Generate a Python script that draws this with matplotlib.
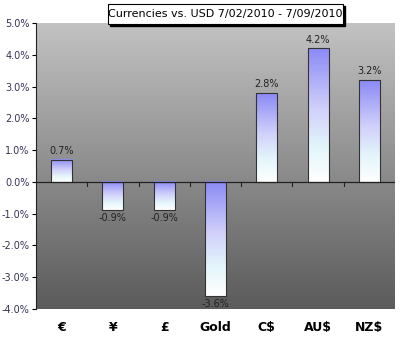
import numpy as np
import matplotlib.pyplot as plt
from matplotlib.colors import LinearSegmentedColormap
from matplotlib.patches import Rectangle
from matplotlib.ticker import FuncFormatter

# Weekly change of currencies vs USD
labels = ["€", "¥", "£", "Gold", "C$", "AU$", "NZ$"]
changes = [0.7, -0.9, -0.9, -3.6, 2.8, 4.2, 3.2]
value_text = ["0.7%", "-0.9%", "-0.9%", "-3.6%", "2.8%", "4.2%", "3.2%"]
title = "Currencies vs. USD 7/02/2010 - 7/09/2010"

W, H = 400, 344
fig = plt.figure(figsize=(W / 100, H / 100), dpi=100)
ax = fig.add_axes([0.09, 0.102, 0.8975, 0.831])

ax.set_xlim(-0.5, len(labels) - 0.5)
ax.set_ylim(-4.0, 5.0)

# plot area background: light gray at top, dark gray at bottom
bg_cmap = LinearSegmentedColormap.from_list("bg", ["#5b5b5b", "#c2c2c2"])
grad = np.linspace(0, 1, 256).reshape(-1, 1)
ax.imshow(grad, cmap=bg_cmap, origin="lower", aspect="auto",
          extent=[-0.5, len(labels) - 0.5, -4.0, 5.0], zorder=0)

# bars: blue on top fading to white at bottom
bar_cmap = LinearSegmentedColormap.from_list(
    "bar", [(0.0, "#ffffff"), (0.25, "#e4f6fb"), (0.55, "#d0d0fa"), (1.0, "#8a8af6")])
w = 0.41
for i, v in enumerate(changes):
    lo, hi = min(0, v), max(0, v)
    ax.imshow(grad, cmap=bar_cmap, origin="lower", aspect="auto",
              extent=[i - w / 2, i + w / 2, lo, hi], zorder=2)
    ax.add_patch(Rectangle((i - w / 2, lo), w, hi - lo, fill=False,
                           edgecolor="#333333", linewidth=0.8, zorder=3))
    if v >= 0:
        ax.text(i, v + 0.12, value_text[i], ha="center", va="bottom",
                fontsize=7, color="#222222", zorder=4)
    else:
        ax.text(i, v - 0.08, value_text[i], ha="center", va="top",
                fontsize=7, color="#222222", zorder=4)

# zero line with category ticks
ax.axhline(0, color="#222222", linewidth=0.9, zorder=3)
for b in np.arange(0.5, len(labels) - 1, 1.0):
    ax.plot([b, b], [0, -0.13], color="#222222", linewidth=0.8, zorder=3)

ax.set_yticks(np.arange(-4, 5.1, 1.0))
ax.yaxis.set_major_formatter(FuncFormatter(lambda y, p: f"{y:.1f}%"))
ax.tick_params(axis="y", labelsize=7, labelcolor="#333355", length=3,
               width=0.8, pad=1.5)
ax.set_xticks([])
for s in ["top", "right", "bottom"]:
    ax.spines[s].set_visible(False)
ax.spines["left"].set_color("#222222")

# category labels below the plot
for i, lab in enumerate(labels):
    ax.text(i, -4.6, lab, ha="center", va="center", fontsize=9,
            fontweight="bold", color="black")

# title in a box with a drop shadow
fig.add_artist(Rectangle((110 / W, 1 - 26 / H), 235 / W, 20 / H,
                         transform=fig.transFigure, facecolor="black",
                         edgecolor="black", zorder=5))
fig.add_artist(Rectangle((108 / W, 1 - 24 / H), 235 / W, 20 / H,
                         transform=fig.transFigure, facecolor="white",
                         edgecolor="black", linewidth=0.8, zorder=6))
fig.text(225.5 / W, 1 - 14 / H, title, ha="center", va="center",
         fontsize=8, color="black", zorder=7)

fig.savefig("out.png", dpi=100)
